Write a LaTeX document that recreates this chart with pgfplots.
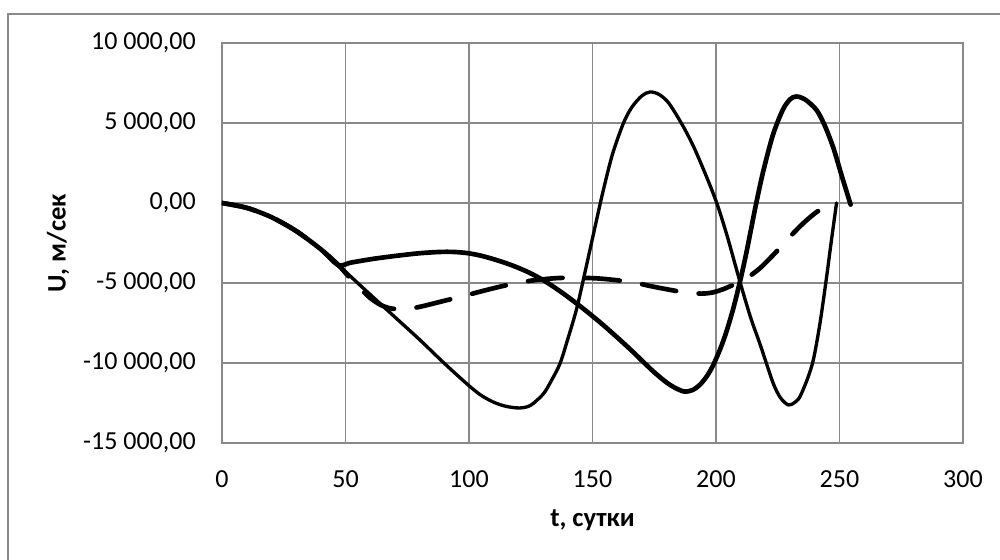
\documentclass[border=0pt]{standalone}
\usepackage{fontspec}
\setmainfont{Carlito}
\usepackage{pgfplots}
\pgfplotsset{compat=1.18}
\definecolor{gridc}{RGB}{137,137,137}

\begin{document}
\begin{tikzpicture}
\begin{axis}[
  at={(0,0)}, anchor=south west,
  scale only axis, width=555.75pt, height=300pt,
  xmin=0, xmax=300, ymin=-15000, ymax=10000,
  scaled y ticks=false,
  xtick={0,50,...,300},
  xticklabels={0,50,100,150,200,250,300},
  ytick={-15000,-10000,...,10000},
  yticklabels={{-15 000,00},{-10 000,00},{-5 000,00},{0,00},{5 000,00},{10 000,00}},
  grid=major,
  major grid style={gridc, line width=1.2pt},
  axis line style={gridc, line width=1.2pt},
  major tick length=0pt, tick style={draw=none},
  tick label style={font=\fontsize{19.5}{23}\selectfont},
  yticklabel style={anchor=east, inner sep=0pt, xshift=-19.5pt},
  xticklabel style={anchor=north, inner sep=0pt, yshift=-20.8pt},
  xlabel={\textbf{t, сутки}},
  ylabel={\textbf{U, м/сек}},
  every axis x label/.style={at={(axis description cs:0.5,-0.1925)}, anchor=center,
    font=\fontsize{20}{24}\selectfont},
  every axis y label/.style={at={(axis description cs:-0.2213,0.5)}, rotate=90, anchor=center,
    font=\fontsize{20}{24}\selectfont},
  every axis plot/.append style={line cap=round, line join=round, smooth, tension=0.5},
]
% thin solid
\addplot[black, line width=2.5pt] coordinates {
  (0,0)(10,-303)(20,-886)(30,-1749)(40,-2892)(47,-3860)(53,-4725)(60,-5720)
  (70,-7130)(80,-8540)(90,-10020)(100,-11420)(105,-12030)(110,-12450)(115,-12710)
  (120.6,-12810)(125,-12640)(130,-11950)(133,-11200)(136.8,-10050)(140,-8500)
  (143.6,-6600)(147,-4300)(150.3,-2000)(154,550)(158,3000)(162.5,4980)(166,6000)
  (170,6700)(173.3,6940)(177,6780)(181,6220)(186.6,4820)(191,3500)(196,1700)
  (200.3,0)(204.5,-2050)(209.7,-4920)(214,-7150)(218,-8900)(223,-11200)(226,-12150)
  (229.3,-12625)(232,-12450)(234,-12100)(237,-11000)(239.4,-9810)(242.1,-7520)
  (244.8,-4600)(246.5,-2600)(248.8,0)
};
% thick solid
\addplot[black, line width=3.5pt] coordinates {
  (0,0)(10,-303)(20,-886)(30,-1749)(40,-2892)(47,-3875)(52,-3730)(60,-3520)
  (66,-3390)(73.4,-3250)(80,-3140)(88,-3060)(94,-3060)(99.7,-3140)(105,-3300)
  (111,-3560)(118,-3930)(125,-4400)(131.4,-4950)(138,-5640)(145,-6450)(153,-7450)
  (160,-8400)(166,-9250)(170,-9850)(175,-10580)(180,-11220)(184,-11600)
  (187.4,-11790)(190.5,-11690)(193.5,-11360)(196.5,-10780)(199,-10090)(202,-9010)
  (204.3,-8000)(207,-6590)(209.7,-4920)(212,-3330)(214,-1790)(216,-230)(219,1900)
  (223,4230)(227,5810)(230,6480)(232.5,6655)(236,6480)(240.7,5810)(244,4850)
  (247.5,3450)(251,1650)(254.5,-100)
};
% thick dashed
\addplot[black, line width=3.5pt, dash pattern=on 26pt off 17pt] coordinates {
  (0,0)(10,-303)(20,-886)(30,-1749)(40,-2892)(47,-3860)(53,-4900)(57,-5500)
  (60,-5940)(64,-6350)(68,-6580)(73,-6640)(77,-6580)(81.5,-6440)(89,-6150)
  (97,-5850)(104.5,-5540)(112,-5250)(120,-4980)(127.4,-4810)(135,-4700)(142,-4670)
  (151.7,-4710)(160,-4830)(167.2,-4980)(174.6,-5230)(185.4,-5540)(190.8,-5640)
  (195,-5660)(199,-5580)(203,-5380)(206.5,-5150)(209.7,-4920)(212.4,-4700)
  (216,-4300)(219.2,-3875)(225,-2950)(230,-2100)(235.3,-1270)(240,-650)(244,-250)
  (248.8,0)
};
\end{axis}
\draw[gridc, line width=1.5pt] (-160.5pt,-90pt) -- (-160.5pt,321.75pt) -- (590pt,321.75pt);
\pgfresetboundingbox
\useasboundingbox (-166.5pt,-87.75pt) rectangle (583.5pt,332.25pt);
\end{tikzpicture}
\end{document}
